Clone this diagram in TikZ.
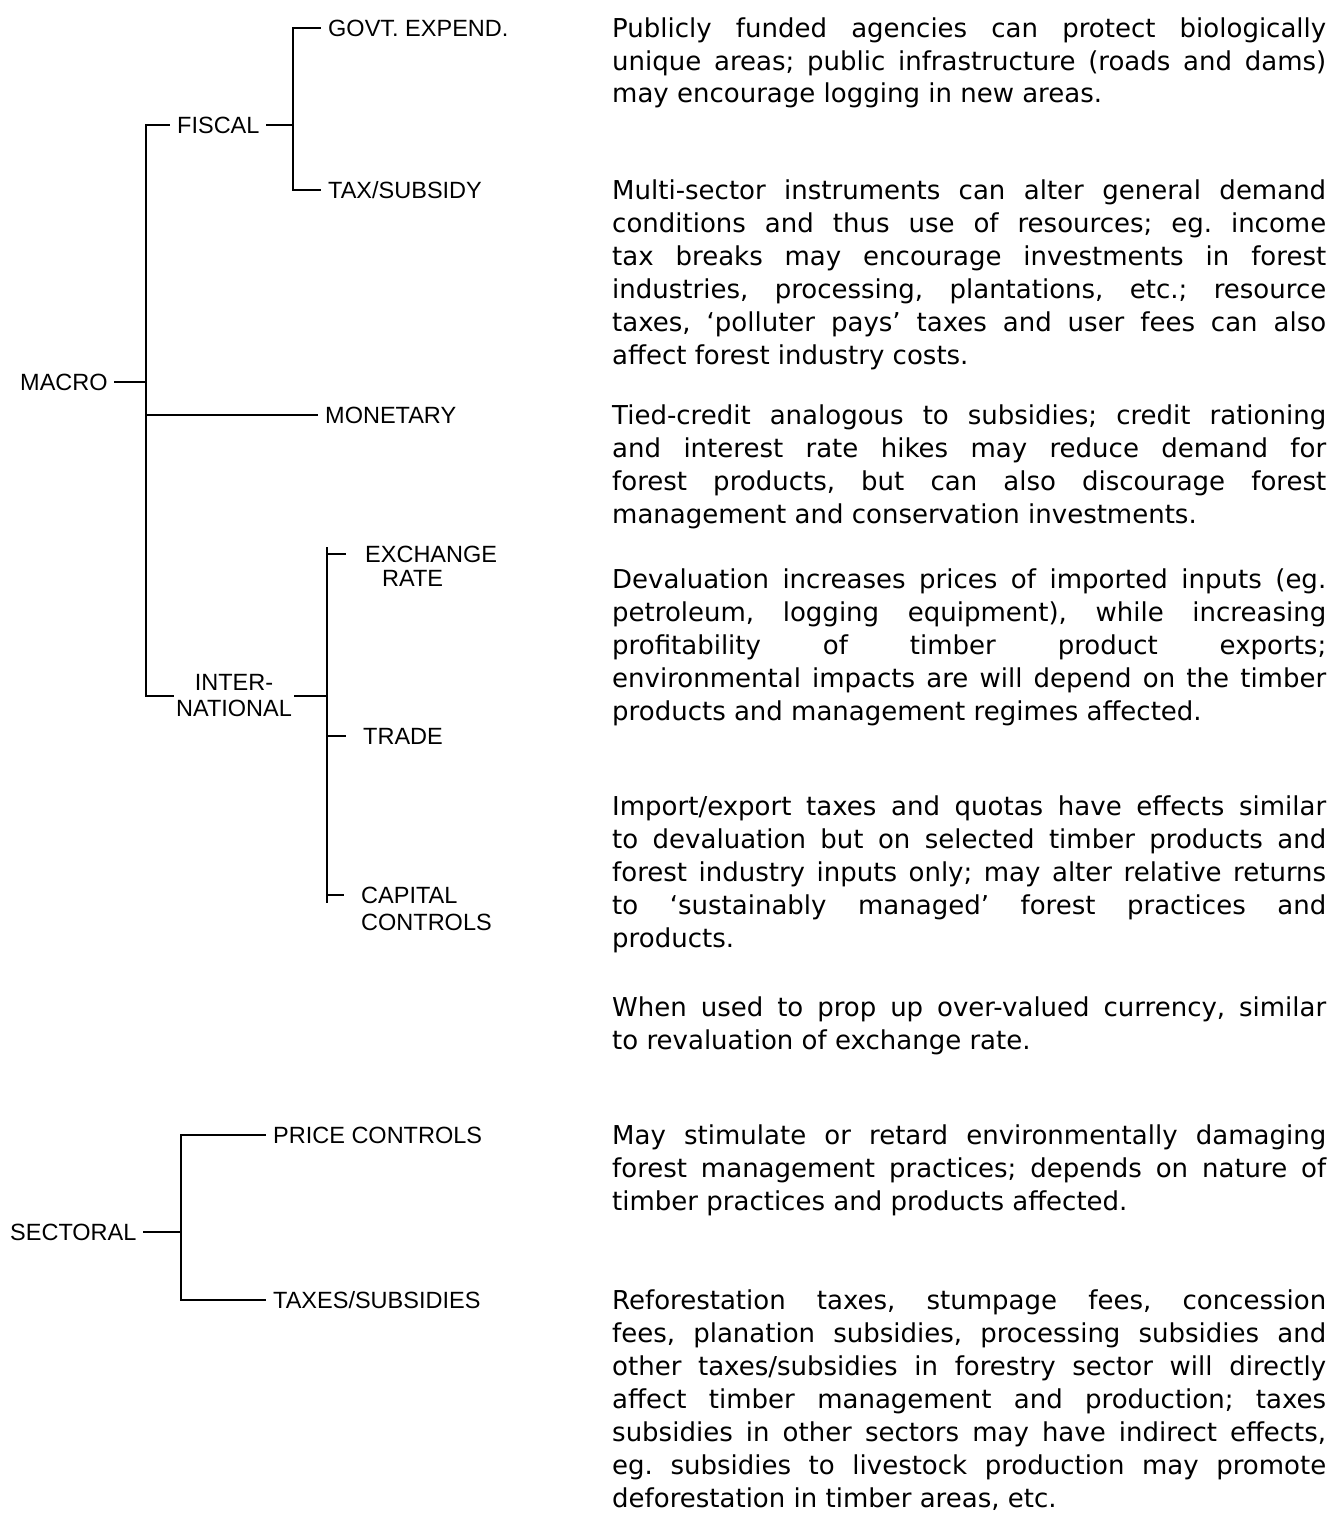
\documentclass[tikz,border=0pt]{standalone}
\usepackage{fontspec}
\newfontfamily\labfont{Liberation Sans}
\newfontfamily\descfont{DejaVu Sans}
\frenchspacing
\newcommand{\jl}[1]{\makebox[\linewidth][s]{#1}\par}
\tikzset{
  labbase/.style={font=\labfont\fontsize{23.5}{26}\selectfont, inner ysep=0pt},
  lab/.style={labbase, inner xsep=8pt, anchor=west, text height=17pt, text depth=0pt},
  desc/.style={font=\descfont\fontsize{26}{33}\selectfont\frenchspacing, inner sep=0pt, anchor=base west},
  tree/.style={line width=2.8pt, line cap=rect, line join=miter, black}
}
\begin{document}
\begin{tikzpicture}[x=1pt,y=-1pt]
\fill[white] (0,0) rectangle (1338,1515);
\useasboundingbox (0,0) rectangle (1338,1515);

% tree labels
\node[lab] (govt)   at (320,28)   {GOVT. EXPEND.};
\node[lab] (tax)    at (320,190)  {TAX/SUBSIDY};
\node[lab] (fiscal) at (169,125)  {FISCAL};
\node[lab] (macro)  at (12,382)   {MACRO};
\node[lab] (mon)    at (317,415)  {MONETARY};
\node[labbase, inner xsep=3pt, align=center] (intl) at (234,696) {INTER-\\NATIONAL};
\node[lab] (exch)   at (357,554)  {\begin{tabular}[t]{@{}l@{}}EXCHANGE\\[-2pt]\hspace*{17pt}RATE\end{tabular}};
\node[lab] (trade)  at (355,736)  {TRADE};
\node[lab] (cap)    at (353,895)  {\begin{tabular}[t]{@{}l@{}}CAPITAL\\[1pt]CONTROLS\end{tabular}};
\node[lab] (sect)   at (2,1232)   {SECTORAL};
\node[lab] (price)  at (265,1135) {PRICE CONTROLS};
\node[lab] (taxes)  at (265,1300) {TAXES/SUBSIDIES};

% bracket spines
\coordinate (F) at (293,0);
\coordinate (M) at (146,0);
\coordinate (I) at (327,0);
\coordinate (S) at (181,0);

% connectors
\draw[tree] (govt.west) -- (govt.west -| F) -- (tax.west -| F) -- (tax.west);
\draw[tree] (fiscal.east) -- (fiscal.east -| F);
\draw[tree] (fiscal.west) -- (fiscal.west -| M) -- (intl.west -| M) -- (intl.west);
\draw[tree] (macro.east) -- (macro.east -| M);
\draw[tree] (mon.west -| M) -- (mon.west);
\draw[tree] (intl.east) -- (intl.east -| I);
\draw[tree] ([yshift=6pt]exch.west -| I) -- ([yshift=-7pt]cap.west -| I);
\draw[tree, shorten >=12pt] (exch.west -| I) -- (exch.west);
\draw[tree, shorten >=10pt] (trade.west -| I) -- (trade.west);
\draw[tree, shorten >=10pt] (cap.west -| I) -- (cap.west);
\draw[tree] (sect.east) -- (sect.east -| S);
\draw[tree] (price.west) -- (price.west -| S) -- (taxes.west -| S) -- (taxes.west);

% descriptions
\node[desc] (d1) at (612,37) {\parbox[t]{714pt}{%
\jl{Publicly funded agencies can protect biologically}
\jl{unique areas; public infrastructure (roads and dams)}
may encourage logging in new areas.}};

\node[desc] (d2) at (612,199) {\parbox[t]{714pt}{%
\jl{Multi-sector instruments can alter general demand}
\jl{conditions and thus use of resources; eg. income}
\jl{tax breaks may encourage investments in forest}
\jl{industries, processing, plantations, etc.; resource}
\jl{taxes, ‘polluter pays’ taxes and user fees can also}
affect forest industry costs.}};

\node[desc] (d3) at (612,424) {\parbox[t]{714pt}{%
\jl{Tied-credit analogous to subsidies; credit rationing}
\jl{and interest rate hikes may reduce demand for}
\jl{forest products, but can also discourage forest}
management and conservation investments.}};

\node[desc] (d4) at (612,588) {\parbox[t]{714pt}{%
\jl{Devaluation increases prices of imported inputs (eg.}
\jl{petroleum, logging equipment), while increasing}
\jl{profitability of timber product exports;}
\jl{environmental impacts are will depend on the timber}
products and management regimes affected.}};

\node[desc] (d5) at (612,815) {\parbox[t]{714pt}{%
\jl{Import/export taxes and quotas have effects similar}
\jl{to devaluation but on selected timber products and}
\jl{forest industry inputs only; may alter relative returns}
\jl{to ‘sustainably managed’ forest practices and}
products.}};

\node[desc] (d6) at (612,1016) {\parbox[t]{714pt}{%
\jl{When used to prop up over-valued currency, similar}
to revaluation of exchange rate.}};

\node[desc] (d7) at (612,1144) {\parbox[t]{714pt}{%
\jl{May stimulate or retard environmentally damaging}
\jl{forest management practices; depends on nature of}
timber practices and products affected.}};

\node[desc] (d8) at (612,1309) {\parbox[t]{714pt}{%
\jl{Reforestation taxes, stumpage fees, concession}
\jl{fees, planation subsidies, processing subsidies and}
\jl{other taxes/subsidies in forestry sector will directly}
\jl{affect timber management and production; taxes}
\jl{subsidies in other sectors may have indirect effects,}
\jl{eg. subsidies to livestock production may promote}
deforestation in timber areas, etc.}};
\end{tikzpicture}
\end{document}
